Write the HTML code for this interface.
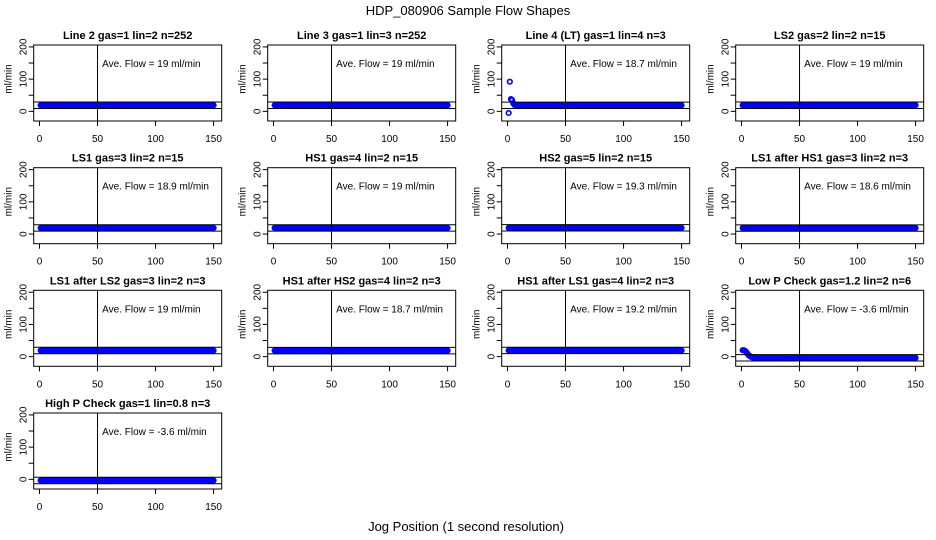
<!DOCTYPE html>
<html><head><meta charset="utf-8"><style>
html,body{margin:0;padding:0;background:#fff}
svg{display:block;font-family:"Liberation Sans",sans-serif}
</style></head><body>
<svg id="chart" width="936" height="540" viewBox="0 0 936 540">
<text x="468" y="15" text-anchor="middle" font-size="13">HDP_080906  Sample Flow Shapes</text>
<text x="466" y="531" text-anchor="middle" font-size="13">Jog Position (1 second resolution)</text>
</svg>
<script>
const titles=["Line 2 gas=1 lin=2 n=252","Line 3 gas=1 lin=3 n=252","Line 4 (LT) gas=1 lin=4 n=3","LS2 gas=2 lin=2 n=15","LS1 gas=3 lin=2 n=15","HS1 gas=4 lin=2 n=15","HS2 gas=5 lin=2 n=15","LS1 after HS1 gas=3 lin=2 n=3","LS1 after LS2 gas=3 lin=2 n=3","HS1 after HS2 gas=4 lin=2 n=3","HS1 after LS1 gas=4 lin=2 n=3","Low P Check gas=1.2 lin=2 n=6","High P Check gas=1 lin=0.8 n=3"];
const aveFlow=[19,19,18.7,19,18.9,19,19.3,18.6,19,18.7,19.2,-3.6,-3.6];
const leadValues=[[],[],[-5,92,38,35,25,20],[],[],[],[],[],[],[],[],[20,20,18,15,10,5,2,0,-2,-3,-2,-3],[]];
const steadyValue=[19,19,18.7,19,18.9,19,19.3,18.6,19,18.7,19.2,-3.6,-3.6];
const nPoints=150;
const yTicks=[0,100,200];
const xTicks=[0,50,100,150];
const svg=document.getElementById('chart');
const NS='http://www.w3.org/2000/svg';
const colL=[33.7,267.7,501.7,735.7],rowT=[45,167.7,290.3,413],W=188,H=76;
const xMin=-5,xMax=157,yMin=-30,yMax=206;
titles.forEach((t,i)=>{
 const L=colL[i%4],T=rowT[Math.floor(i/4)];
 const sx=v=>L+(v-xMin)/(xMax-xMin)*W;
 const sy=v=>T+H-(v-yMin)/(yMax-yMin)*H;
 const g=document.createElementNS(NS,'g');svg.appendChild(g);
 
 
 function a(tag,attrs,txt){const e=document.createElementNS(NS,tag);for(const k in attrs)e.setAttribute(k,attrs[k]);if(txt!==undefined)e.textContent=txt;g.appendChild(e);return e;}
 const tt=a('text',{x:L+W/2,y:T-6,'text-anchor':'middle','font-size':11,'font-weight':'bold'},t);
 
 
 const vals=leadValues[i].concat(Array(nPoints-leadValues[i].length).fill(steadyValue[i]));
 vals.forEach((v,k)=>{const c=a('circle',{cx:sx(k+1),cy:sy(v),r:2.3,fill:'none',stroke:'#0000ff','stroke-width':1.6});
  
  });
 [aveFlow[i]+10,aveFlow[i]-10].forEach(v=>{const l=a('line',{x1:L,x2:L+W,y1:sy(v),y2:sy(v),stroke:'#000','stroke-width':1});
  
  });
 const vl=a('line',{x1:sx(50),x2:sx(50),y1:T,y2:T+H,stroke:'#000','stroke-width':1});
 
 
 const box=a('rect',{x:L,y:T,width:W,height:H,fill:'none',stroke:'#000','stroke-width':1});
 
 
 const af=a('text',{x:sx(54),y:T+22,'font-size':10},'Ave. Flow =  '+aveFlow[i]+'  ml/min');
 
 
 [0,50,100,150,200].forEach(v=>a('line',{x1:L,x2:L-5,y1:sy(v),y2:sy(v),stroke:'#000'}));
 yTicks.forEach(v=>{const y=sy(v);const tx=a('text',{x:L-7,y:y,'font-size':10,'text-anchor':'middle',transform:`rotate(-90 ${L-7} ${y})`},String(v));
  
  });
 const yx=L-22,ym=T+H/2-4;
 const yl=a('text',{x:yx,y:ym,'font-size':10,'text-anchor':'middle',transform:`rotate(-90 ${yx} ${ym})`},'ml/min');
 
 
 xTicks.forEach(v=>{a('line',{x1:sx(v),x2:sx(v),y1:T+H,y2:T+H+5,stroke:'#000'});
  const tx=a('text',{x:sx(v),y:T+H+21,'font-size':10,'text-anchor':'middle'},String(v));
  
  });
});
</script>
</body></html>
